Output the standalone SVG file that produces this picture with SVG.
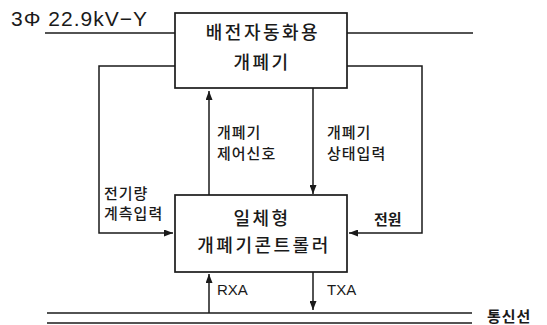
<svg xmlns="http://www.w3.org/2000/svg" width="547" height="325" viewBox="0 0 547 325">
<style>
.ln{fill:none;stroke:#1a1a1a;stroke-width:1.5}
.box{fill:#fff;stroke:#1a1a1a;stroke-width:1.7}
.kr{font-family:"Noto Sans CJK KR","Noto Sans",sans-serif;fill:#1a1a1a}
.big{font-size:18px;letter-spacing:2.5px;text-anchor:middle;font-weight:500}
.sm{font-size:15px;letter-spacing:1px;font-weight:500}
.bd{font-weight:bold}
.lat{font-family:"Liberation Sans",Arial,sans-serif;fill:#1a1a1a}
</style>
<defs>
<marker id="ah" markerUnits="userSpaceOnUse" markerWidth="9" markerHeight="7" refX="9" refY="3.5" orient="auto">
<path d="M0,0 L9,3.5 L0,7 z" fill="#1a1a1a"/>
</marker>
</defs>
<g id="connectors">
<line class="ln" x1="45" y1="33" x2="175" y2="33"/>
<line class="ln" x1="347" y1="33" x2="473" y2="33"/>
<polyline class="ln" points="175,66 99,66 99,233 173,233" marker-end="url(#ah)"/>
<polyline class="ln" points="347,66 422,66 422,233 349,233" marker-end="url(#ah)"/>
<line class="ln" x1="209" y1="195" x2="209" y2="91" marker-end="url(#ah)"/>
<line class="ln" x1="313" y1="88" x2="313" y2="194" marker-end="url(#ah)"/>
<line class="ln" x1="209" y1="313" x2="209" y2="274" marker-end="url(#ah)"/>
<line class="ln" x1="313" y1="272" x2="313" y2="310" marker-end="url(#ah)"/>
<line class="ln" x1="47" y1="313" x2="472" y2="313"/>
<line class="ln" x1="47" y1="323" x2="472" y2="323"/>
</g>
<text class="lat" x="11" y="26" font-size="21" letter-spacing="1">3Φ 22.9kV−Y</text>
<g id="switch">
<rect class="box" x="175" y="13" width="172" height="75"/>
<text class="kr big" x="263" y="39">배전자동화용</text>
<text class="kr big" x="262" y="69">개폐기</text>
</g>
<g id="controller">
<rect class="box" x="175" y="195" width="172" height="77"/>
<text class="kr big" x="262" y="225">일체형</text>
<text class="kr big" x="264" y="252">개폐기콘트롤러</text>
</g>
<g id="labels">
<text class="kr sm" x="217" y="138">개폐기</text>
<text class="kr sm" x="217" y="159">제어신호</text>
<text class="kr sm" x="327" y="138">개폐기</text>
<text class="kr sm" x="327" y="159">상태입력</text>
<text class="kr sm" x="104" y="199">전기량</text>
<text class="kr sm" x="104" y="219">계측입력</text>
<text class="kr sm bd" x="374" y="225" style="letter-spacing:0">전원</text>
<text class="lat" x="217" y="295" font-size="15">RXA</text>
<text class="lat" x="327" y="295" font-size="15">TXA</text>
<text class="kr sm bd" x="487" y="322">통신선</text>
</g>
</svg>
